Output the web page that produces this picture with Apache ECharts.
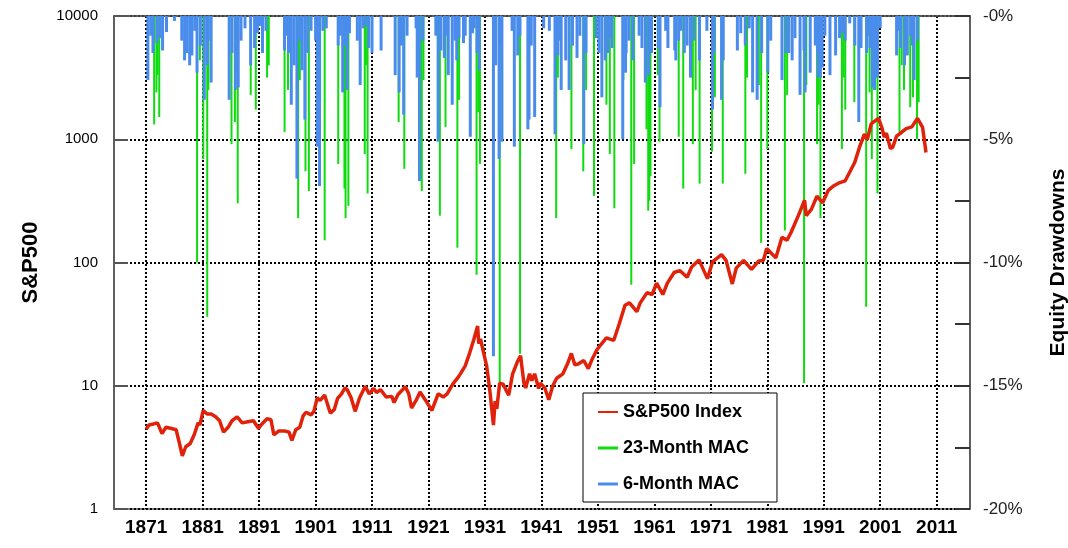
<!DOCTYPE html>
<html>
<head>
<meta charset="utf-8">
<script src="https://cdn.jsdelivr.net/npm/echarts@6/dist/echarts.min.js"></script>
<style>
  html, body { margin: 0; padding: 0; background: #fff; }
  #chart { width: 1068px; height: 548px; }
</style>
</head>
<body>
<div id="chart"></div>
<script>
// S&P500 index (year, level)
var spxYears = [1871.0,1871.5,1872.3,1873.0,1873.8,1874.5,1875.5,1876.3,1876.9,1877.4,1878.0,1878.8,1879.5,1880.2,1880.5,1881.1,1881.8,1882.5,1883.3,1884.0,1884.7,1885.5,1886.2,1887.1,1888.0,1889.0,1890.0,1890.9,1891.5,1892.4,1893.1,1893.6,1894.5,1895.5,1896.3,1896.8,1897.5,1898.2,1898.8,1899.3,1900.2,1900.7,1901.3,1901.8,1902.6,1903.6,1904.3,1904.9,1905.6,1906.2,1906.6,1907.3,1908.0,1908.8,1909.8,1910.5,1911.3,1911.8,1912.5,1913.5,1914.5,1914.9,1915.6,1916.9,1917.5,1918.0,1918.8,1919.5,1920.5,1921.6,1922.7,1923.6,1924.3,1925.3,1926.3,1926.7,1927.5,1928.3,1929.0,1929.7,1929.9,1930.2,1930.7,1931.3,1931.9,1932.5,1932.8,1933.1,1933.6,1934.2,1935.2,1935.9,1936.7,1937.3,1937.9,1938.2,1938.9,1939.3,1939.8,1940.5,1940.8,1941.6,1942.3,1943.0,1943.7,1944.8,1945.6,1946.3,1946.9,1947.5,1948.5,1949.3,1950.0,1950.8,1951.5,1952.5,1953.8,1954.8,1955.8,1956.6,1957.9,1958.5,1959.7,1960.6,1961.4,1962.5,1963.3,1964.5,1965.5,1966.8,1967.6,1968.9,1970.4,1971.3,1972.9,1973.7,1974.8,1975.5,1976.8,1978.2,1979.5,1980.3,1980.9,1982.5,1983.6,1984.5,1985.2,1986.5,1987.6,1987.9,1988.8,1989.8,1990.8,1991.8,1992.8,1993.6,1994.8,1995.4,1996.5,1997.4,1998.2,1998.7,1999.4,2000.2,2000.7,2001.3,2001.7,2002.1,2002.8,2003.2,2003.9,2004.8,2005.6,2006.6,2007.6,2007.9,2008.5,2008.9,2009.1];
var spxValues = [4.44,4.8,4.9,5.0,4.1,4.6,4.5,4.4,3.4,2.7,3.2,3.4,4.0,5.0,4.8,6.3,5.9,5.9,5.6,5.2,4.2,4.6,5.2,5.6,5.0,5.1,5.2,4.5,4.9,5.4,5.3,4.0,4.3,4.3,4.2,3.6,4.4,4.6,5.7,6.1,5.8,6.2,8.0,7.6,8.4,6.0,6.4,7.9,8.6,9.6,9.3,8.0,6.2,8.0,9.9,8.6,9.5,8.8,9.3,8.1,8.2,7.3,8.5,9.8,8.6,6.6,7.6,8.9,7.6,6.3,8.6,8.1,8.6,10.3,11.8,12.6,14.5,18.5,23.5,30.5,22.0,24,19,14.5,8.8,4.8,7.5,6.5,10.5,10.3,8.4,12.5,15.5,17.5,10.5,9.6,12.5,11,12.5,9.5,10.5,9.6,7.7,10,11.5,12.5,15,18.3,14.8,15,16,13.8,16.5,19.5,21.5,24.5,23.3,32,45,47,40,47,57,55,68,55,68,83,86,76,92,105,74,101,116,104,67,90,104,88,103,104,130,109,160,152,175,240,320,240,270,345,305,385,420,440,460,520,650,880,1100,990,1330,1420,1480,1240,1040,1120,840,860,1060,1140,1220,1260,1480,1520,1250,920,780];

// 23-month MAC drawdowns (year, depth in %)
var mac23Years = [1872.5,1872.9,1873.4,1880.1,1881.2,1881.9,1886.2,1886.8,1887.3,1889.6,1890.5,1892.5,1892.8,1895.6,1898.0,1899.3,1899.9,1902.7,1905.1,1906.2,1906.4,1906.9,1909.8,1910.3,1915.8,1916.8,1919.9,1923.1,1924.1,1926.2,1929.6,1930.2,1933.7,1937.3,1943.7,1946.4,1948.5,1950.4,1952.6,1953.2,1954.0,1957.0,1957.5,1959.7,1960.0,1960.2,1960.4,1962.0,1965.4,1966.2,1967.9,1969.1,1971.3,1973.2,1977.2,1980.0,1981.1,1984.2,1987.6,1989.9,1990.5,1994.3,1994.9,1996.5,1998.6,1999.6,2000.6,2004.5,2005.3,2006.4,2007.6,
  1873.1,1880.6,1882.1,1887.0,1896.2,1898.3,1901.9,1906.0,1910.0,1920.2,1926.5,1929.9,1934.1,1944.0,1949.0,1955.6,1961.7,1968.4,1971.8,1977.5,1979.6,1984.6,1988.0,1990.2,1994.6,1999.2,2004.9,2006.9,2007.9];
var mac23Depth = [4.4,3.1,4.1,10.0,5.8,12.2,5.2,4.3,7.6,3.2,3.8,2.5,2.0,4.7,8.2,6.3,7.1,9.1,6.0,7.0,8.2,7.7,5.6,7.2,4.3,6.2,7.1,8.1,4.5,9.4,10.5,6.0,15.0,13.7,8.2,5.4,6.3,7.3,3.6,5.6,7.8,10.9,6.0,4.6,7.9,7.5,6.5,5.1,4.9,7.0,5.2,6.8,5.5,6.8,6.4,9.2,5.4,8.7,14.9,5.2,8.2,5.4,3.8,3.5,11.8,5.8,7.2,4.7,3.0,3.7,5.0,
  2.4,1.8,3.0,2.2,3.0,2.6,3.5,2.8,2.0,2.6,3.4,3.9,2.7,2.5,3.0,2.6,2.4,3.0,3.3,2.5,2.8,3.2,2.8,3.6,2.5,3.1,2.0,3.3,3.5];

// 6-month MAC drawdowns (year, depth in %)
var mac6Years = [1871.3,1872.2,1872.9,1873.9,1874.6,1876.0,1877.8,1878.7,1879.1,1880.0,1881.3,1882.5,1885.7,1886.8,1887.3,1888.5,1889.5,1890.2,1891.1,1891.6,1892.2,1895.5,1896.7,1897.7,1898.6,1899.1,1901.3,1901.7,1902.9,1905.0,1905.8,1906.6,1908.4,1908.9,1909.4,1911.0,1912.6,1915.1,1915.8,1916.6,1918.8,1919.0,1919.4,1922.3,1922.7,1923.8,1924.5,1925.2,1926.0,1927.2,1927.5,1928.4,1929.1,1932.5,1933.5,1934.0,1936.2,1936.8,1938.6,1938.8,1939.8,1941.4,1942.4,1943.4,1943.9,1944.5,1945.3,1945.9,1947.3,1948.5,1950.7,1951.2,1951.7,1952.3,1952.8,1955.4,1955.9,1956.5,1958.8,1959.4,1961.7,1962.0,1963.4,1964.6,1964.8,1965.7,1966.8,1967.4,1971.3,1972.9,1975.7,1976.3,1978.4,1979.2,1983.6,1984.8,1985.4,1986.8,1987.7,1988.6,1989.5,1990.0,1990.7,1992.1,1993.1,1994.3,1995.6,1997.2,1997.6,1999.6,2000.0,2003.9,2004.6,2005.3,2007.0,
  1871.8,1873.4,1877.3,1878.2,1879.6,1880.6,1881.8,1882.0,1886.2,1887.8,1890.7,1895.9,1896.2,1897.2,1898.2,1899.6,1900.2,1901.0,1902.3,1905.4,1906.2,1907.0,1909.9,1910.4,1916.2,1917.2,1920.0,1923.2,1924.0,1925.7,1926.4,1928.8,1929.6,1930.0,1932.9,1933.9,1935.8,1937.2,1939.2,1943.7,1944.1,1946.5,1947.8,1948.9,1953.0,1953.5,1956.0,1957.2,1958.3,1960.0,1960.5,1963.0,1965.3,1966.3,1968.0,1969.0,1970.3,1971.6,1973.2,1977.1,1977.8,1980.0,1981.1,1981.6,1984.3,1985.9,1987.5,1989.9,1990.4,1991.2,1993.8,1994.8,1996.5,1998.6,1998.9,1999.2,2000.5,2001.0,2004.2,2005.8,2006.4,2006.7,2007.6];
var mac6Depth = [2.6,1.5,1.1,1.4,0.65,0.2,1.8,2.0,1.6,2.3,3.4,2.7,3.4,3.0,2.9,0.5,2.0,1.3,0.4,1.5,0.6,1.4,3.6,6.6,2.2,4.2,5.3,6.9,0.5,1.2,3.1,3.0,1.0,2.8,0.5,1.5,1.4,2.4,3.1,4.0,0.5,2.5,6.7,0.8,5.1,1.7,2.4,3.6,1.8,1.1,0.8,4.9,0.5,13.8,5.8,5.1,5.3,1.6,4.6,4.2,4.1,0.5,0.6,4.8,1.6,3.0,1.8,3.0,1.7,5.2,0.9,1.5,3.3,1.8,1.5,5.0,2.3,1.0,1.3,2.7,1.3,3.7,1.3,1.4,1.8,0.6,1.2,2.5,3.8,3.4,1.4,0.7,3.1,3.4,2.6,1.5,1.8,3.2,3.1,2.3,1.2,2.5,2.1,2.4,1.6,0.7,0.3,4.3,1.3,2.9,3.0,1.6,1.3,2.0,2.6,
  0.8,0.9,1.0,1.5,0.6,1.2,2.0,1.0,1.5,1.0,0.7,0.8,1.5,2.0,1.0,1.5,0.6,1.0,0.6,0.8,1.2,0.7,0.4,1.3,1.2,0.8,1.0,1.4,0.8,1.0,0.9,0.7,1.5,2.2,2.0,1.2,0.6,0.8,1.2,1.5,1.0,1.2,0.8,1.5,0.9,1.3,1.5,1.8,0.8,2.4,1.5,0.6,1.0,1.5,1.0,1.8,0.6,1.5,1.8,1.2,0.5,1.5,2.3,1.0,1.5,0.9,1.4,1.5,2.5,0.8,0.9,1.0,1.2,1.5,0.8,1.3,2.5,0.5,0.6,1.6,0.8,1.2,1.0];

var yearTicks = [1871,1881,1891,1901,1911,1921,1931,1941,1951,1961,1971,1981,1991,2001,2011];

function pairs(xs, ys, sign) {
  return xs.map(function (x, i) { return [x, sign * ys[i]]; });
}

var FONT = '"Liberation Sans", Arial, sans-serif';
var myChart = echarts.init(document.getElementById('chart'));
var option = {
  animation: false,
  backgroundColor: '#fff',
  textStyle: { fontFamily: FONT },
  grid: {
    left: 114, right: 98, top: 16, bottom: 39,
    outerBoundsMode: 'none',
    show: true, borderColor: '#555', borderWidth: 1.5
  },
  legend: {
    left: 583, top: 393,
    orient: 'vertical',
    backgroundColor: '#fff',
    borderColor: '#000', borderWidth: 1,
    padding: [9, 28, 8, 14],
    itemGap: 16,
    itemWidth: 20, itemHeight: 3,
    textStyle: { fontFamily: FONT, fontSize: 18, fontWeight: 'bold', color: '#000', lineHeight: 20 },
    data: [
      { name: 'S&P500 Index' },
      { name: '23-Month MAC', icon: 'rect' },
      { name: '6-Month MAC', icon: 'rect' }
    ]
  },
  xAxis: {
    type: 'value',
    min: 1865.3, max: 2016.9,
    axisLine: { show: true, lineStyle: { color: '#555', width: 1.5 } },
    axisTick: { show: false, customValues: yearTicks },
    axisLabel: {
      customValues: yearTicks,
      fontFamily: FONT, fontSize: 19, fontWeight: 'bold', color: '#000', margin: 9,
      formatter: function (v) { return String(Math.round(v)); }
    },
    splitLine: { show: true, lineStyle: { color: '#000', type: [2, 2], width: 2 } }
  },
  yAxis: [
    {
      type: 'log', logBase: 10, min: 1, max: 10000,
      name: 'S&P500', nameLocation: 'middle', nameGap: 72, nameRotate: 90,
      nameTextStyle: { fontFamily: FONT, fontSize: 22, fontWeight: 'bold', color: '#000' },
      axisLine: { show: true, lineStyle: { color: '#555', width: 1.5 } },
      axisTick: { show: true, inside: true, length: 14, lineStyle: { color: '#555', width: 2 } },
      minorTick: { show: false },
      axisLabel: {
        fontFamily: FONT, fontSize: 15, color: '#000', margin: 16,
        formatter: function (v) { return String(Math.round(v)); }
      },
      splitLine: { show: true, lineStyle: { color: '#000', type: [2, 2], width: 2 } }
    },
    {
      type: 'value', min: -20, max: 0, interval: 2.5, position: 'right',
      name: 'Equity Drawdowns', nameLocation: 'middle', nameGap: 78, nameRotate: 90,
      nameTextStyle: { fontFamily: FONT, fontSize: 21, fontWeight: 'bold', color: '#000' },
      axisLine: { show: true, lineStyle: { color: '#555', width: 1.5 } },
      axisTick: { show: true, inside: true, length: 15, lineStyle: { color: '#333', width: 2 } },
      axisLabel: {
        fontFamily: FONT, fontSize: 17, color: '#222', margin: 13,
        formatter: function (v) {
          if (Math.abs(v % 5) > 0.001) return '';
          return v === 0 ? '-0%' : v + '%';
        }
      },
      splitLine: { show: false }
    }
  ],
  series: [
    {
      name: '23-Month MAC', type: 'bar', xAxisIndex: 0, yAxisIndex: 1,
      barWidth: 2, itemStyle: { color: '#0fdc0f' },
      data: pairs(mac23Years, mac23Depth, -1), z: 2
    },
    {
      name: '6-Month MAC', type: 'bar', xAxisIndex: 0, yAxisIndex: 1,
      barWidth: 3, barGap: '-100%', itemStyle: { color: '#4a8cec' },
      data: pairs(mac6Years, mac6Depth, -1), z: 3
    },
    {
      name: 'S&P500 Index', type: 'line', xAxisIndex: 0, yAxisIndex: 0,
      showSymbol: false, symbol: 'none',
      lineStyle: { color: '#e0220a', width: 3.5 },
      itemStyle: { color: '#e0220a' },
      data: pairs(spxYears, spxValues, 1), z: 4
    }
  ]
};
myChart.setOption(option);
</script>
</body>
</html>
